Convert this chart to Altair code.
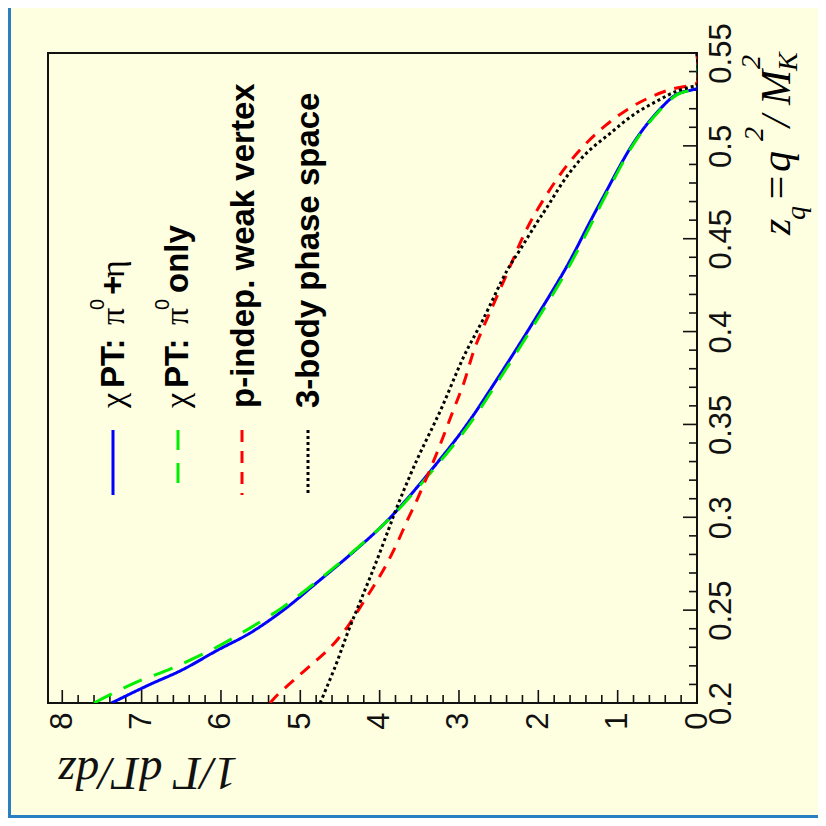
import altair as alt
import pandas as pd
import numpy as np

# ---------------- data (z = q^2/M_K^2, d = 1/Gamma dGamma/dz) ----------------
blue_z = [0.200, 0.2097, 0.2178, 0.2285, 0.2375, 0.2501, 0.2645, 0.2788, 0.2941, 0.3057,
          0.3264, 0.3488, 0.3757, 0.4026, 0.4314, 0.4423, 0.4565, 0.4710, 0.5016, 0.5177,
          0.5276, 0.5303, 0.5310, 0.5500]
blue_d = [7.38, 6.91, 6.49, 6.04, 5.64, 5.21, 4.80, 4.40, 4.00, 3.74,
          3.33, 2.92, 2.50, 2.10, 1.69, 1.55, 1.38, 1.20, 0.80, 0.51,
          0.26, 0.05, 0.0, 0.0]

green_z = [0.200, 0.2106, 0.2187, 0.2295, 0.2402, 0.2519, 0.2645, 0.2788, 0.2941, 0.3057,
           0.3264, 0.3488, 0.3757, 0.4026, 0.4314, 0.4565, 0.4710, 0.5016, 0.5177, 0.5276,
           0.5303, 0.5310, 0.5500]
green_d = [7.60, 7.10, 6.62, 6.08, 5.64, 5.21, 4.82, 4.41, 4.00, 3.73,
           3.31, 2.89, 2.47, 2.07, 1.66, 1.35, 1.18, 0.79, 0.50, 0.25,
           0.05, 0.0, 0.0]

red_z = [0.200, 0.2043, 0.2124, 0.2214, 0.2295, 0.2402, 0.2519, 0.2626, 0.2734, 0.2851,
         0.2985, 0.3093, 0.3345, 0.3578, 0.3722, 0.3901, 0.4026, 0.4152, 0.4376, 0.4495,
         0.4621, 0.4818, 0.4926, 0.5025, 0.5114, 0.5195, 0.5258, 0.5303, 0.5330, 0.5340, 0.5500]
red_d = [5.38, 5.29, 5.08, 4.84, 4.63, 4.42, 4.24, 4.08, 3.93, 3.79,
         3.65, 3.53, 3.28, 3.07, 2.94, 2.81, 2.69, 2.56, 2.33, 2.21,
         2.06, 1.77, 1.58, 1.37, 1.14, 0.88, 0.61, 0.34, 0.05, 0.0, 0.0]

black_z = [0.200, 0.2196, 0.2393, 0.2572, 0.2752, 0.2932, 0.3057, 0.3309, 0.3578, 0.3865,
           0.4062, 0.4332, 0.4441, 0.4592, 0.4656, 0.4836, 0.4962, 0.5069, 0.5168, 0.5240,
           0.5294, 0.5320, 0.5325, 0.5500]
black_d = [4.75, 4.56, 4.39, 4.22, 4.05, 3.89, 3.78, 3.53, 3.23, 2.94,
           2.70, 2.39, 2.23, 2.01, 1.91, 1.64, 1.39, 1.09, 0.80, 0.51,
           0.26, 0.05, 0.0, 0.0]

d_major_ticks = [0, 1, 2, 3, 4, 5, 6, 7, 8]
z_major_ticks = [0.2, 0.25, 0.3, 0.35, 0.4, 0.45, 0.5, 0.55]
d_minor_ticks = [round(v, 2) for v in np.arange(0.2, 8.01, 0.2) if abs(v - round(v)) > 1e-6]
z_minor_ticks = [round(v, 3) for v in np.arange(0.21, 0.545, 0.01)
                 if abs(v * 20 - round(v * 20)) > 1e-6]

legend_colors = ["#0000ff", "#00ee00", "#ff0000", "#000000"]
legend_dashes = [[1, 0], [20, 13], [12, 9], [3, 3]]

# ---------------- layout ----------------
W, H = 649, 650
BG = "#fefee0"
xscale = alt.Scale(domain=[0, 8.18], reverse=True, nice=False, zero=False)
yscale = alt.Scale(domain=[0.2, 0.55], nice=False, zero=False)

xaxis = alt.Axis(values=d_major_ticks, format="d", ticks=False, tickSize=0, domain=False,
                 grid=False, labelAngle=270, labelAlign="right", labelBaseline="middle",
                 labelPadding=9, labelFont="Liberation Sans", labelFontSize=31,
                 labelColor="#111111", labelOverlap=False, labelFlush=False,
                 title="1/Γ dΓ/dz", titleAngle=180, titleX=189, titleY=54,
                 titleAlign="left", titleBaseline="alphabetic", titleFont="Liberation Serif",
                 titleFontStyle="italic", titleFontWeight="normal", titleFontSize=47,
                 titleColor="#111111")
yaxis = alt.Axis(orient="right", values=z_major_ticks, format=".2~f", ticks=False, tickSize=0,
                 domain=False, grid=False, labelAngle=270, labelAlign="center",
                 labelBaseline="top", labelPadding=9, labelFont="Liberation Sans",
                 labelFontSize=31, labelColor="#111111", labelOverlap=False,
                 labelFlush=False, title=None)


def curve(z, d, color, dash):
    df = pd.DataFrame({"z": z, "d": d})
    return alt.Chart(df).mark_line(color=color, strokeWidth=3, strokeDash=dash, clip=True,
                                   interpolate="catmull-rom").encode(
        x=alt.X("d:Q", scale=xscale, axis=xaxis),
        y=alt.Y("z:Q", scale=yscale, axis=yaxis),
        order=alt.Order("z:Q"),
    )


def xticks(vals, length):
    return alt.Chart(pd.DataFrame({"d": vals})).mark_rule(color="#111111", strokeWidth=1.6).encode(
        x=alt.X("d:Q", scale=xscale, axis=xaxis), y=alt.value(H), y2=alt.value(H - length))


def yticks(vals, length):
    return alt.Chart(pd.DataFrame({"z": vals})).mark_rule(color="#111111", strokeWidth=1.6).encode(
        y=alt.Y("z:Q", scale=yscale, axis=yaxis), x=alt.value(W), x2=alt.value(W - length))


def txt(text, x, y, size, font="Liberation Sans", weight="bold", style="normal",
        baseline="middle", angle=270):
    return alt.Chart(pd.DataFrame({"t": [text]})).mark_text(
        font=font, fontSize=size, fontWeight=weight, fontStyle=style, color="#000000",
        align="left", baseline=baseline, angle=angle).encode(
        text="t:N", x=alt.value(x), y=alt.value(y))


def sample(x, color, dash):
    return alt.Chart(pd.DataFrame({"k": [0]})).mark_rule(
        color=color, strokeWidth=3, strokeDash=dash).encode(
        x=alt.value(x), y=alt.value(377), y2=alt.value(442))


layers = [
    xticks(d_minor_ticks, 8), xticks(d_major_ticks, 13),
    yticks(z_minor_ticks, 8), yticks(z_major_ticks, 14),
    curve(blue_z, blue_d, legend_colors[0], legend_dashes[0]),
    curve(green_z, green_d, legend_colors[1], legend_dashes[1]),
    curve(red_z, red_d, legend_colors[2], legend_dashes[2]),
    curve(black_z, black_d, legend_colors[3], legend_dashes[3]),
]

# legend samples
for xs, c, ds in zip([65, 130, 194, 260], legend_colors, legend_dashes):
    layers.append(sample(xs, c, ds))

# legend labels
SER = "Liberation Serif"
for xm, xs in [(66, 50), (130, 115)]:
    layers += [
        txt("χ", xm, 355, 34, font=SER, weight="normal"),
        txt("PT:", xm, 335, 33),
        txt("π", xm, 272, 34, font=SER, weight="normal"),
        txt("0", xs, 257, 20, weight="normal"),
    ]
layers += [
    txt("+", 66, 242, 33),
    txt("η", 66, 225, 34, font=SER, weight="normal"),
    txt("only", 130, 240, 33),
    txt("p-indep. weak vertex", 196, 355, 33),
    txt("3-body phase space", 261, 355, 33),
]

# right axis title  z_q = q^2 / M_K^2
TS = dict(font=SER, weight="normal", style="italic", baseline="alphabetic")
layers += [
    txt("z", 742, 182, 42, **TS),
    txt("q", 757, 167, 28, **TS),
    txt("=", 742, 149, 42, **TS),
    txt("q", 742, 119, 42, **TS),
    txt("2", 715, 88, 28, **TS),
    txt("/", 742, 74, 42, **TS),
    txt("M", 742, 52, 42, **TS),
    txt("K", 749, 18, 28, **TS),
    txt("2", 712, 16, 28, **TS),
]

# decorative frame bands
layers.append(alt.Chart(pd.DataFrame({"k": [0]})).mark_rect(color="#2a7fc2").encode(
    x=alt.value(-40), x2=alt.value(-37), y=alt.value(-45), y2=alt.value(765)))
layers.append(alt.Chart(pd.DataFrame({"k": [0]})).mark_rect(color="#2a7fc2").encode(
    x=alt.value(-40), x2=alt.value(770), y=alt.value(762), y2=alt.value(765)))

chart = alt.layer(*layers).properties(
    width=W, height=H, background=BG, autosize="none",
    padding={"left": 40, "top": 45, "right": 121, "bottom": 115},
).configure_view(stroke="#111111", strokeWidth=2, fill=BG)

chart.save("out.html", embed_options={"renderer": "svg", "actions": False})
